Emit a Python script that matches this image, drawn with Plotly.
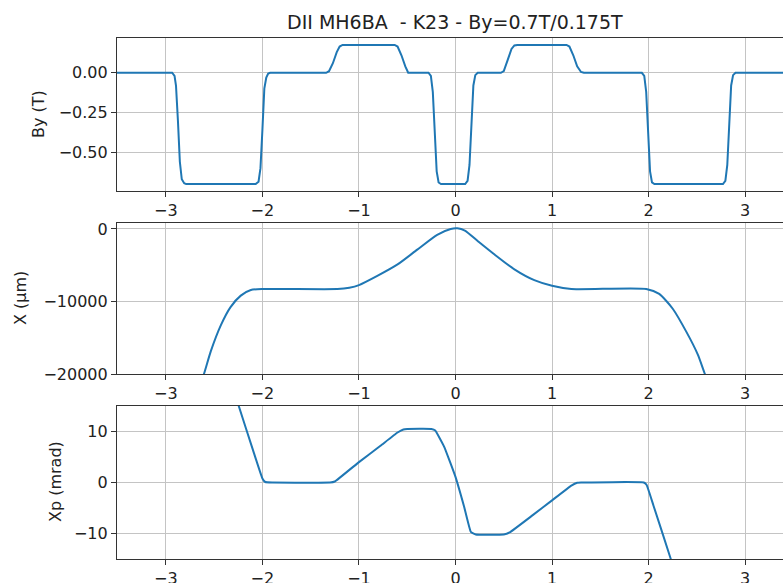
import plotly.graph_objects as go

# Longitudinal position s (m) and vertical field By (T) along the cell
s_by = [-3.6, -2.935, -2.91, -2.895, -2.875, -2.855, -2.835, -2.81, -2.79,
        -2.07, -2.04, -2.02, -2.0, -1.98, -1.96, -1.94, -1.92,
        -1.34, -1.31, -1.27, -1.23, -1.20, -1.17,
        -0.63, -0.60, -0.56, -0.52, -0.49,
        -0.28, -0.255, -0.235, -0.215, -0.195, -0.175, -0.15,
        0.10, 0.125, 0.145, 0.165, 0.185, 0.205, 0.23,
        0.47, 0.50, 0.54, 0.58, 0.61, 0.64,
        1.15, 1.18, 1.22, 1.26, 1.30, 1.33,
        1.93, 1.955, 1.975, 1.995, 2.015, 2.035, 2.06,
        2.77, 2.795, 2.815, 2.835, 2.855, 2.875, 2.90, 3.6]
by_t = [0.0, 0.0, -0.02, -0.08, -0.30, -0.56, -0.67, -0.695, -0.70,
        -0.70, -0.685, -0.60, -0.36, -0.10, -0.03, -0.005, 0.0,
        0.0, 0.01, 0.06, 0.13, 0.165, 0.175,
        0.175, 0.165, 0.11, 0.04, 0.0,
        0.0, -0.02, -0.12, -0.40, -0.62, -0.69, -0.70,
        -0.70, -0.68, -0.58, -0.30, -0.08, -0.015, 0.0,
        0.0, 0.01, 0.08, 0.15, 0.172, 0.175,
        0.175, 0.165, 0.11, 0.04, 0.005, 0.0,
        0.0, -0.02, -0.12, -0.40, -0.62, -0.69, -0.70,
        -0.70, -0.68, -0.58, -0.30, -0.08, -0.015, 0.0, 0.0]

# Horizontal trajectory X (um)
s_x = [-2.75, -2.603, -2.535, -2.43, -2.33, -2.224, -2.12, -2.0,
       -1.224, -1.1, -1.0, -0.81, -0.60, -0.396, -0.19, -0.05, 0.02,
       0.097, 0.235, 0.405, 0.61, 0.816, 1.0, 1.2,
       1.976, 2.11, 2.25, 2.39, 2.51, 2.58, 2.72]
x_um = [-25500, -19900, -16880, -13260, -10770, -9190, -8420, -8280,
        -8280, -8100, -7740, -6470, -4890, -2850, -810, 0, 90,
        -230, -1720, -3530, -5570, -7060, -7830, -8280,
        -8280, -8960, -11000, -14160, -17330, -19900, -25000]

# Horizontal angle Xp (mrad)
s_xp = [-2.5, -2.245, -2.1, -2.0, -1.97, -1.9,
        -1.3, -1.25, -1.0, -0.777, -0.6, -0.54, -0.5,
        -0.25, -0.21, -0.117, 0.0, 0.09, 0.159, 0.21,
        0.5, 0.56, 0.8, 1.0, 1.2, 1.26, 1.3,
        1.95, 1.98, 2.05, 2.228, 2.5]
xp_mrad = [32.0, 15.0, 6.5, 0.8, 0.1, 0.0,
           0.0, 0.2, 4.0, 7.2, 9.8, 10.4, 10.5,
           10.5, 10.2, 7.0, 1.1, -4.8, -9.7, -10.2,
           -10.2, -9.8, -6.4, -3.5, -0.6, -0.05, 0.0,
           0.0, -0.5, -4.5, -14.9, -32.0]

s_ticks = [-3, -2, -1, 0, 1, 2, 3]
by_ticks = [-0.5, -0.25, 0.0]
x_ticks = [-20000, -10000, 0]
xp_ticks = [-10, 0, 10]

W, H = 783, 583
ML, MR, MT, MB = 117, 0, 38, 24
plot_h = H - MT - MB
plot_w = W - ML - MR

def dom(top_px, bottom_px):
    return [(H - MB - bottom_px) / plot_h, (H - MB - top_px) / plot_h]

line_color = "#1f77b4"
font_family = "DejaVu Sans, sans-serif"
tick_font = dict(family=font_family, size=16, color="#222")

fig = go.Figure()
fig.add_trace(go.Scatter(x=s_by, y=by_t, mode="lines", xaxis="x", yaxis="y",
                         line=dict(color=line_color, width=2), showlegend=False))
fig.add_trace(go.Scatter(x=s_x, y=x_um, mode="lines", xaxis="x2", yaxis="y2",
                         line=dict(color=line_color, width=2, shape="spline", smoothing=0.6),
                         showlegend=False))
fig.add_trace(go.Scatter(x=s_xp, y=xp_mrad, mode="lines", xaxis="x3", yaxis="y3",
                         line=dict(color=line_color, width=2, shape="spline", smoothing=0.3),
                         showlegend=False))

s_range = [-3.506, 3.392]
common_x = dict(range=s_range, tickvals=s_ticks, showgrid=True, gridcolor="#c4c4c4",
                gridwidth=1, showline=True, linecolor="#333", linewidth=1.2, mirror=True,
                ticks="outside", ticklen=5, tickcolor="#333", tickfont=tick_font,
                zeroline=False, domain=[0, 1])
common_y = dict(showgrid=True, gridcolor="#c4c4c4", gridwidth=1, showline=True,
                linecolor="#333", linewidth=1.2, mirror=False, ticks="outside", ticklen=5,
                tickcolor="#333", tickfont=tick_font, zeroline=False)

fig.update_layout(
    width=W, height=H,
    margin=dict(l=ML, r=MR, t=MT, b=MB, autoexpand=False),
    paper_bgcolor="white", plot_bgcolor="white",
    xaxis=dict(common_x, anchor="y"),
    xaxis2=dict(common_x, anchor="y2"),
    xaxis3=dict(common_x, anchor="y3"),
    yaxis=dict(common_y, anchor="x", domain=dom(38, 191), range=[-0.74375, 0.21875],
               tickvals=by_ticks, tickformat=".2f"),
    yaxis2=dict(common_y, anchor="x2", domain=dom(223, 374), range=[-20000, 820],
                tickvals=x_ticks, tickformat="d"),
    yaxis3=dict(common_y, anchor="x3", domain=dom(406, 559), range=[-15, 15],
                tickvals=xp_ticks, tickformat="d"),
)

def px_x(px):
    return (px - ML) / plot_w

def px_y(px):
    return (H - MB - px) / plot_h

label_font = dict(family=font_family, size=16, color="#222")
annotations = [
    dict(text="DII MH6BA  - K23 - By=0.7T/0.175T", x=px_x(455), y=px_y(22),
         font=dict(family=font_family, size=19, color="#222")),
    dict(text="By (T)", x=px_x(38), y=px_y(114), textangle=-90, font=label_font),
    dict(text="X (\u03bcm)", x=px_x(20), y=px_y(298), textangle=-90, font=label_font),
    dict(text="Xp (mrad)", x=px_x(55), y=px_y(482), textangle=-90, font=label_font),
]
for a in annotations:
    a.update(xref="paper", yref="paper", xanchor="center", yanchor="middle",
             showarrow=False)
fig.update_layout(annotations=annotations)

fig.write_html("out.html")
